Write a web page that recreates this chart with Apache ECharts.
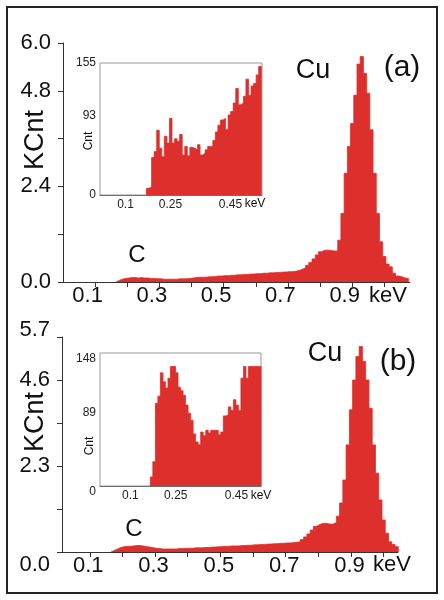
<!DOCTYPE html>
<html>
<head>
<meta charset="utf-8">
<script src="https://cdn.jsdelivr.net/npm/echarts@6/dist/echarts.min.js"></script>
<style>
html,body{margin:0;padding:0;background:#fff;}
#chart{width:444px;height:600px;}
</style>
</head>
<body>
<div id="chart"></div>
<script>
// ---- data (energy in keV, counts in KCnt / Cnt) ----
const mainBinStart = 0.165;
const mainBinWidth = 0.01;
const countsA = [
  0.04,0.07,0.09,0.10,0.11,0.11,0.10,0.11,0.10,0.10,
  0.09,0.09,0.08,0.08,0.07,0.07,0.07,0.07,0.07,0.08,
  0.08,0.08,0.09,0.10,0.11,0.12,0.12,0.12,0.13,0.13,
  0.14,0.15,0.15,0.16,0.16,0.17,0.17,0.18,0.18,0.19,
  0.19,0.20,0.20,0.21,0.21,0.22,0.22,0.23,0.23,0.24,
  0.24,0.25,0.25,0.26,0.26,0.27,0.29,0.32,0.36,0.42,
  0.49,0.58,0.68,0.76,0.80,0.80,0.79,0.78,0.78,1.05,
  1.72,2.73,3.40,3.98,4.69,5.47,5.66,5.24,4.74,3.82,
  2.73,1.72,1.01,0.64,0.45,0.38,0.22,0.15,0.13,0.10,
  0.09
];
const countsB = [
  0.04,0.08,0.12,0.14,0.15,0.15,0.16,0.17,0.17,0.16,
  0.14,0.13,0.11,0.10,0.09,0.08,0.08,0.08,0.08,0.08,
  0.09,0.09,0.09,0.10,0.10,0.11,0.11,0.11,0.12,0.12,
  0.13,0.13,0.14,0.14,0.15,0.15,0.16,0.16,0.16,0.17,
  0.17,0.18,0.18,0.19,0.19,0.20,0.20,0.21,0.21,0.22,
  0.22,0.23,0.23,0.24,0.24,0.25,0.26,0.27,0.33,0.40,
  0.48,0.58,0.68,0.73,0.76,0.76,0.74,0.74,0.78,0.95,
  1.30,1.91,2.84,3.77,4.56,5.18,5.45,5.05,4.56,3.81,
  2.84,2.09,1.38,0.85,0.50,0.27,0.20,0.14
];
const insetStartA = 0.17, insetWidthA = 0.0085;
const insetCountsA = [
  7.8,9.8,44,51,76,55,45,69,61,90,
  61,66,63,71,47,57,46,56,55,53,
  59,47,49,53,57,57,64,74,82,88,
  90,77,94,98,108,125,106,108,116,136,
  117,128,131,141,151
];
const insetStartB = 0.166, insetWidthB = 0.0083;
const insetCountsB = [
  10,27,92,100,126,116,109,120,133,133,
  126,110,106,101,90,81,73,58,49,46,
  60,56,62,59,62,62,62,57,60,78,
  79,88,84,96,90,84,120,133,120,133,
  133,133,133,133
];
const mainTicks = [0.1,0.2,0.3,0.4,0.5,0.6,0.7,0.8,0.9,1.0];
const mainLabels = [0.1,0.3,0.5,0.7,0.9];
const insetLabels = [0.1,0.25,0.45];

// ---- build step-histogram point lists ----
function histPoints(start, width, vals){
  const pts = [[start, 0]];
  vals.forEach((v,i)=>pts.push([start + i*width, v]));
  pts.push([start + vals.length*width, 0]);
  return pts;
}

const RED = '#dd2f2c';
const FONT = '"Liberation Sans", Arial, sans-serif';
const AX = '#333';

function mainX(gi, min, max, shiftLeft){
  return {
    type:'value', gridIndex:gi, min:min, max:max,
    axisLine:{show:true, onZero:false, lineStyle:{color:AX, width:1}},
    axisTick:{show:true, customValues:mainTicks, length:5, lineStyle:{color:AX}},
    axisLabel:{customValues:mainLabels, formatter:v=>'{t|'+v.toFixed(1)+'}', fontSize:22, fontFamily:FONT, color:'#111', margin:3,
      rich:{t:{fontSize:22, fontFamily:FONT, color:'#111', padding:[0,shiftLeft,0,0]}}},
    splitLine:{show:false}
  };
}
function mainY(gi, max, interval, rich){
  return {
    type:'value', gridIndex:gi, min:0, max:max, interval:interval,
    axisLine:{show:true, lineStyle:{color:AX, width:1}},
    axisTick:{show:true, length:5, lineStyle:{color:AX}},
    axisLabel:{fontSize:22, fontFamily:FONT, color:'#111', margin:12,
      formatter:(v,i)=>{ if(i===1||i===3) return ''; const s=v.toFixed(1); if(rich && i===0) return '{lo|'+s+'}'; if(rich && i===5) return '{hi|'+s+'}'; return s; },
      rich: rich ? {lo:{fontSize:22, fontFamily:FONT, color:'#111', padding:[26,0,0,0]}, hi:{fontSize:22, fontFamily:FONT, color:'#111', padding:[0,0,14,0]}} : undefined
    },
    splitLine:{show:false}
  };
}
function insetX(gi, min, max){
  return {
    type:'value', gridIndex:gi, min:min, max:max,
    axisLine:{show:true, onZero:false, lineStyle:{color:'#444', width:1}},
    axisTick:{show:false},
    axisLabel:{customValues:insetLabels, formatter:v=>String(v), fontSize:12, fontFamily:FONT, color:'#222', margin:4},
    splitLine:{show:false}
  };
}
function insetY(gi, max, interval, vAlign){
  return {
    type:'value', gridIndex:gi, min:0, max:max, interval:interval,
    axisLine:{show:false}, axisTick:{show:false},
    axisLabel:{fontSize:12, fontFamily:FONT, color:'#222', margin:4, verticalAlign:vAlign,
      formatter:(v,i)=> (i===0||i===3||i===5) ? String(Math.round(v)) : ''},
    splitLine:{show:false}
  };
}
function histSeries(xi, pts){
  return {
    type:'line', xAxisIndex:xi, yAxisIndex:xi, step:'end', symbol:'none',
    data:pts, lineStyle:{color:RED, width:0.8}, areaStyle:{color:RED, opacity:1},
    silent:true, z:3
  };
}
function txt(x,y,text,size,extra){
  return Object.assign({type:'text', x:x, y:y, z:100,
    style:{text:text, font:size+'px '+FONT, fill:'#111', align:'center', verticalAlign:'middle'}}, extra||{});
}

const chart = echarts.init(document.getElementById('chart'), null, {renderer:'canvas'});
chart.setOption({
  animation:false,
  backgroundColor:'#fff',
  grid:[
    {left:63, top:43, right:34, bottom:318},
    {left:62, top:337, right:46, bottom:48},
    {left:100, top:63, right:182, bottom:405, show:true, backgroundColor:'#fff', borderColor:'#999', borderWidth:1, z:5},
    {left:100, top:353, right:183, bottom:114, show:true, backgroundColor:'#fff', borderColor:'#999', borderWidth:1, z:5}
  ],
  xAxis:[
    mainX(0, 0, 1.08, 15),
    mainX(1, 0.015, 1.044, 3),
    insetX(2, 0.015, 0.555),
    insetX(3, 0, 0.531)
  ],
  yAxis:[
    mainY(0, 6.0, 1.2, false),
    mainY(1, 5.7, 1.14, true),
    insetY(2, 155, 31, 'middle'),
    insetY(3, 148, 29.6, 'top')
  ],
  series:[
    histSeries(0, histPoints(mainBinStart, mainBinWidth, countsA)),
    histSeries(1, histPoints(mainBinStart, mainBinWidth, countsB)),
    Object.assign(histSeries(2, histPoints(insetStartA, insetWidthA, insetCountsA)), {z:6}),
    Object.assign(histSeries(3, histPoints(insetStartB, insetWidthB, insetCountsB)), {z:6})
  ],
  graphic:[
    {type:'rect', z:100, shape:{x:7, y:7, width:430, height:586}, style:{fill:null, stroke:'#222', lineWidth:2}},
    txt(36,140,'KCnt',27,{rotation:Math.PI/2}),
    txt(36,422,'KCnt',27,{rotation:Math.PI/2}),
    txt(89,141,'Cnt',12,{rotation:Math.PI/2}),
    txt(90,446,'Cnt',12,{rotation:Math.PI/2}),
    txt(388,296,'keV',22),
    txt(392,565,'keV',22),
    txt(255,204,'keV',12),
    txt(261,496,'keV',12),
    txt(313,71,'Cu',27),
    txt(325,354,'Cu',27),
    txt(402,68,'(a)',30),
    txt(398,362,'(b)',30),
    txt(137,255,'C',24),
    txt(134,529,'C',24)
  ]
});
</script>
</body>
</html>
